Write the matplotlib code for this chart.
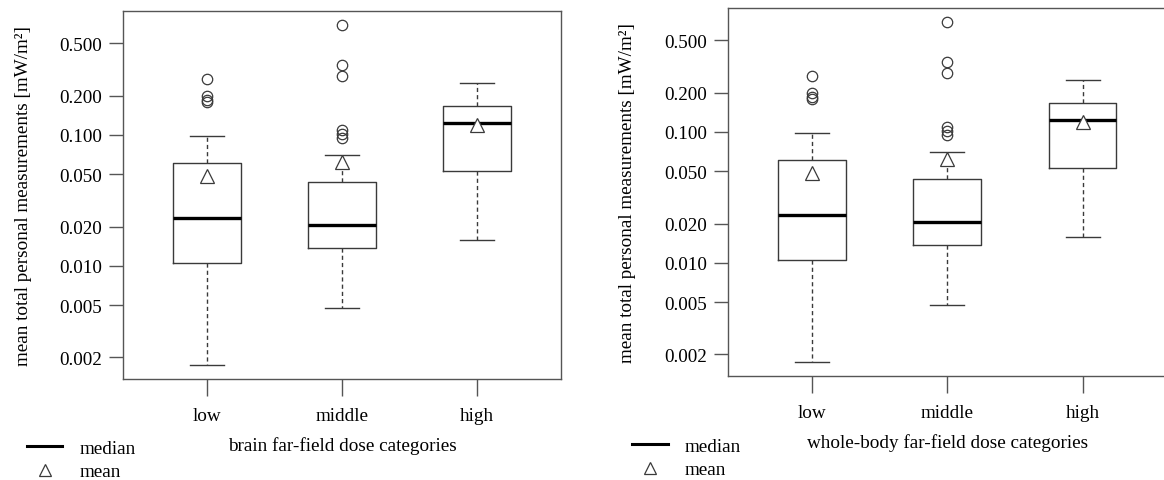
import matplotlib
matplotlib.use("Agg")
from matplotlib import pyplot as plt
from matplotlib.lines import Line2D
from matplotlib.ticker import FixedLocator, FixedFormatter, NullLocator

plt.rcParams['font.family'] = ['Liberation Serif', 'DejaVu Serif']
plt.rcParams['font.size'] = 13.5

categories = ['low', 'middle', 'high']

# box statistics (same data in both panels)
whisker_low = [0.00175, 0.00475, 0.0158]
q1 = [0.0105, 0.0137, 0.0534]
medians = [0.0233, 0.0205, 0.1236]
q3 = [0.0615, 0.0438, 0.166]
whisker_high = [0.0977, 0.0708, 0.249]
means = [0.0490, 0.0626, 0.119]
outliers = [
    [0.267, 0.197, 0.184, 0.178],
    [0.69, 0.342, 0.281, 0.109, 0.102, 0.0944],
    [],
]

ytick_values = [0.002, 0.005, 0.010, 0.020, 0.050, 0.100, 0.200, 0.500]
ytick_labels = ['0.002', '0.005', '0.010', '0.020', '0.050', '0.100', '0.200', '0.500']

xlabels = ['brain far-field dose categories', 'whole-body far-field dose categories']
ylabel = 'mean total personal measurements [mW/m²]'

frame_col = '#555555'
box_col = '#3a3a3a'
fs = 13.8

fig = plt.figure(figsize=(11.64, 4.81), dpi=100)
ax_left = fig.add_axes([0.1057, 0.21, 0.3763, 0.765])
ax_right = fig.add_axes([0.6254, 0.2162, 0.3768, 0.765])

stats = []
for i in range(len(categories)):
    stats.append(dict(med=medians[i], q1=q1[i], q3=q3[i], whislo=whisker_low[i],
                      whishi=whisker_high[i], mean=means[i], fliers=outliers[i],
                      label=categories[i]))

for ax, xl in zip([ax_left, ax_right], xlabels):
    ax.bxp(stats, positions=[1, 2, 3], widths=0.5, capwidths=0.25,
           showmeans=True, showfliers=True,
           boxprops=dict(color=box_col, linewidth=1.0),
           medianprops=dict(color='black', linewidth=2.4, solid_capstyle='butt'),
           whiskerprops=dict(color=box_col, linewidth=1.0, linestyle=(0, (3, 2.2))),
           capprops=dict(color=box_col, linewidth=1.0),
           flierprops=dict(marker='o', markerfacecolor='none', markeredgecolor=box_col,
                           markersize=7.5, markeredgewidth=0.9),
           meanprops=dict(marker='^', markerfacecolor='white', markeredgecolor=box_col,
                          markersize=10, markeredgewidth=0.9))
    ax.set_yscale('log')
    ax.set_ylim(0.00137, 0.884)
    ax.set_xlim(0.38, 3.62)
    ax.yaxis.set_major_locator(FixedLocator(ytick_values))
    ax.yaxis.set_major_formatter(FixedFormatter(ytick_labels))
    ax.yaxis.set_minor_locator(NullLocator())
    ax.set_xticks([1, 2, 3])
    ax.set_xticklabels(categories)
    ax.tick_params(axis='y', length=10, width=1, color=frame_col, pad=5, labelsize=fs)
    ax.tick_params(axis='x', length=12, width=1, color=frame_col, pad=8, labelsize=fs)
    for s in ax.spines.values():
        s.set_color(frame_col)
        s.set_linewidth(1.0)
    ax.set_xlabel(xl, fontsize=fs, labelpad=9)
    ax.set_ylabel(ylabel, fontsize=fs, labelpad=20)

handles = [Line2D([], [], color='black', linewidth=2.2),
           Line2D([], [], linestyle='none', marker='^', markerfacecolor='white',
                  markeredgecolor=box_col, markersize=9, markeredgewidth=0.9)]
for anchor in [(0.0232, 0.0845), (0.543, 0.0885)]:
    fig.legend(handles, ['median', 'mean'], loc='upper left', bbox_to_anchor=anchor,
               frameon=False, borderpad=0, borderaxespad=0, handlelength=1.85,
               handletextpad=0.9, labelspacing=0.32, fontsize=fs)

fig.savefig('out.png', dpi=100)
